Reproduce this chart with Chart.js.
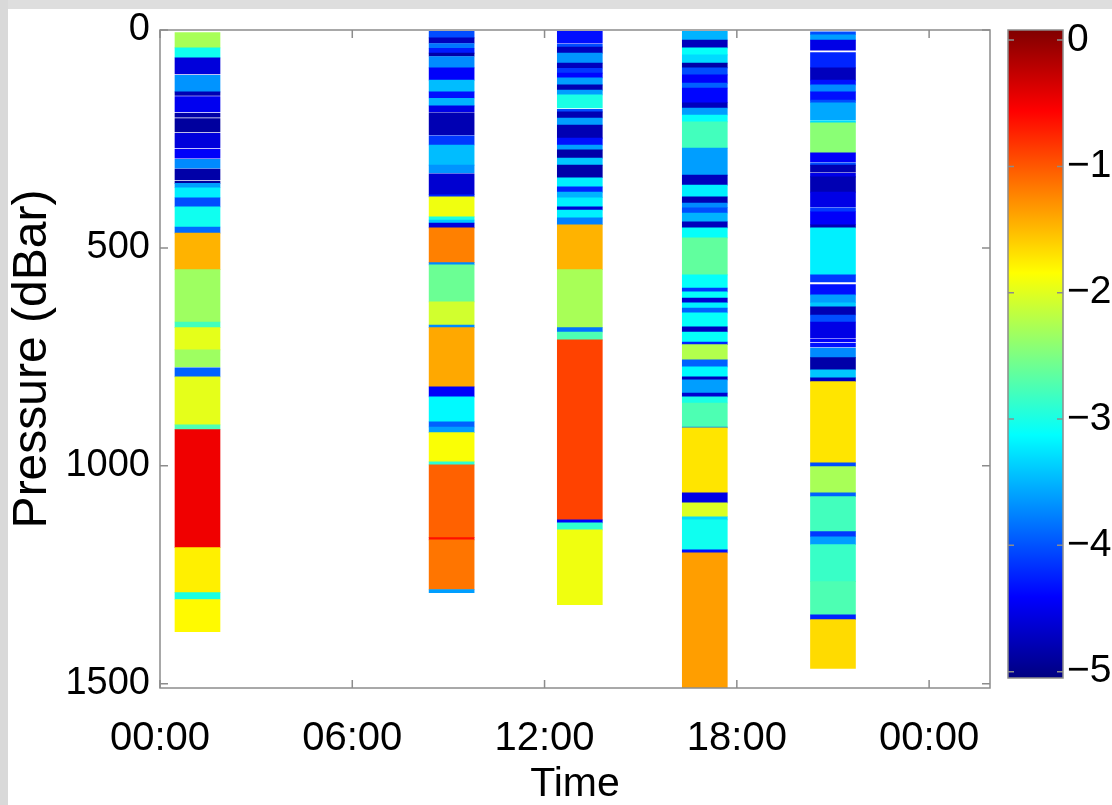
<!DOCTYPE html>
<html>
<head>
<meta charset="utf-8">
<title>Pressure profiles</title>
<script src="https://cdn.jsdelivr.net/npm/chart.js@4.4.0/dist/chart.umd.min.js"></script>
<style>
  html, body { margin: 0; padding: 0; }
  body {
    width: 1112px; height: 805px; overflow: hidden;
    position: relative; background: #fff;
  }
  .edge-top { position: absolute; left: 0; top: 0; width: 1112px; height: 9px; background: #dedede; }
  .edge-left { position: absolute; left: 0; top: 0; width: 8px; height: 805px; background: #d9d9d9; }
  canvas { position: absolute; top: 0; }
  #profiles { left: 0; }
  #colorbar { left: 1000px; }
</style>
</head>
<body>
<div class="edge-top"></div>
<div class="edge-left"></div>
<canvas id="profiles" width="1000" height="805"></canvas>
<canvas id="colorbar" width="112" height="805"></canvas>
<script>
// cast times in hours from midnight
const profileTimes = [1.17, 9.1, 13.1, 17.0, 21.0];

// each cast: [top dBar, bottom dBar, value]
const profile1 = [
  [6, 41, -2.3], [41, 64, -3.05], [64, 101, -4.55], [104, 142, -3.65], [142, 150, -4.75],
  [153, 188, -4.45], [191, 200, -4.8], [203, 234, -4.85], [237, 270, -4.55], [273, 294, -4.4],
  [297, 317, -3.7], [319, 344, -4.8], [347, 352, -4.85], [352, 362, -3.6], [362, 385, -3.2],
  [385, 406, -4.0], [406, 452, -3.05], [452, 466, -3.85], [466, 550, -1.5], [550, 670, -2.35],
  [670, 683, -2.8], [683, 734, -2.0], [734, 773, -2.35], [775, 796, -3.9], [796, 906, -2.0],
  [906, 917, -2.75], [917, 1188, -0.55], [1188, 1291, -1.8], [1291, 1307, -3.0], [1307, 1381, -1.85]
];
const profile2 = [
  [3, 18, -4.0], [18, 30, -4.7], [31, 41, -3.8], [42, 53, -4.25], [53, 60, -4.8],
  [61, 87, -3.7], [87, 115, -4.4], [115, 142, -3.45], [142, 156, -4.3], [157, 174, -3.5],
  [174, 188, -4.5], [190, 241, -4.75], [243, 264, -4.1], [264, 310, -3.45], [310, 328, -3.65],
  [330, 378, -4.6], [378, 383, -4.2], [383, 429, -1.95], [429, 436, -3.0], [436, 443, -3.4],
  [443, 454, -4.55], [454, 534, -1.25], [534, 539, -3.7], [539, 624, -2.6], [624, 677, -2.1],
  [677, 683, -3.7], [683, 819, -1.45], [819, 842, -4.4], [842, 899, -3.15], [899, 911, -3.9],
  [911, 924, -3.6], [924, 991, -1.9], [991, 998, -2.9], [998, 1165, -1.1], [1165, 1170, -0.7],
  [1170, 1284, -1.2], [1284, 1291, -3.6]
];
const profile3 = [
  [3, 30, -4.3], [33, 39, -4.0], [39, 53, -4.7], [53, 76, -3.65], [76, 87, -4.7],
  [88, 99, -4.1], [99, 110, -4.35], [110, 126, -3.6], [126, 138, -4.75], [138, 149, -3.6],
  [149, 179, -3.0], [182, 188, -4.0], [188, 202, -4.75], [202, 218, -3.6], [218, 248, -4.75],
  [248, 264, -4.3], [264, 275, -3.6], [275, 294, -4.8], [294, 310, -3.4], [310, 339, -4.8],
  [339, 360, -3.2], [360, 372, -4.2], [372, 385, -3.5], [385, 406, -3.2], [406, 413, -4.6],
  [413, 431, -3.2], [431, 447, -3.75], [447, 550, -1.5], [550, 683, -2.3], [683, 693, -3.8],
  [693, 711, -2.75], [711, 1124, -0.95], [1124, 1131, -4.4], [1131, 1147, -2.9], [1147, 1319, -1.95]
];
const profile4 = [
  [3, 23, -3.5], [23, 41, -4.7], [41, 57, -3.1], [57, 76, -3.3], [76, 87, -4.8],
  [87, 103, -4.0], [103, 122, -4.4], [122, 133, -3.9], [133, 167, -4.35], [167, 179, -4.7],
  [179, 195, -3.6], [195, 211, -3.1], [211, 271, -2.8], [271, 333, -3.6], [333, 356, -4.7],
  [356, 383, -3.2], [383, 397, -4.75], [397, 408, -3.7], [408, 420, -4.0], [420, 440, -3.5],
  [440, 454, -4.7], [454, 477, -3.1], [477, 562, -2.65], [562, 592, -3.1], [592, 601, -4.1],
  [601, 615, -3.1], [615, 626, -4.6], [626, 638, -3.2], [638, 649, -3.9], [649, 681, -3.1],
  [681, 693, -4.7], [693, 716, -3.1], [716, 722, -4.2], [722, 757, -2.25], [757, 773, -3.9],
  [773, 796, -3.15], [796, 803, -4.7], [803, 833, -3.6], [833, 842, -4.6], [842, 856, -3.0],
  [856, 911, -2.75], [911, 913, -3.8], [913, 1062, -1.75], [1062, 1085, -4.5], [1085, 1117, -2.05],
  [1117, 1124, -3.3], [1124, 1193, -3.05], [1193, 1200, -4.3], [1200, 1509, -1.4]
];
const profile5 = [
  [4, 11, -4.0], [11, 23, -3.6], [23, 46, -4.5], [52, 87, -4.2], [87, 115, -4.7],
  [115, 126, -4.3], [126, 142, -3.7], [142, 161, -4.3], [161, 167, -4.0], [167, 206, -3.55],
  [208, 213, -3.3], [213, 282, -2.45], [282, 303, -4.4], [305, 310, -4.0], [310, 326, -4.75],
  [329, 337, -4.5], [337, 372, -4.75], [372, 406, -4.5], [408, 417, -4.1], [417, 447, -4.4],
  [447, 454, -4.75], [454, 562, -3.2], [562, 578, -4.1], [584, 608, -4.3], [608, 626, -3.6],
  [626, 635, -3.4], [635, 654, -4.75], [654, 670, -4.0], [670, 706, -4.5], [709, 716, -4.4],
  [719, 727, -4.3], [730, 752, -3.7], [752, 780, -4.8], [780, 798, -3.4], [798, 807, -4.7],
  [807, 993, -1.75], [993, 1002, -4.0], [1002, 1062, -2.3], [1062, 1071, -3.9], [1071, 1151, -2.8],
  [1151, 1163, -4.1], [1163, 1181, -3.6], [1181, 1266, -2.85], [1266, 1342, -2.75], [1342, 1353, -4.2],
  [1353, 1465, -1.7]
];
const profiles = [profile1, profile2, profile3, profile4, profile5];

const pressureTicks = [0, 500, 1000, 1500];
const timeTicks = [0, 6, 12, 18, 24];
const timeTickLabels = ['00:00', '06:00', '12:00', '18:00', '00:00'];
const colorTicks = [0, -1, -2, -3, -4, -5];
const valueMin = -5;
const valueMax = 0;
// colour bar axis runs a little past the tick range at both ends
const barMin = -5.05;
const barMax = 0.08;

const FONT = '"Liberation Sans", Arial, Helvetica, sans-serif';

// MATLAB-style jet colormap, t in [0, 1]
function jetRGB(t) {
  const c = x => Math.round(255 * Math.max(0, Math.min(1, x)));
  return [c(1.5 - Math.abs(4 * t - 3)), c(1.5 - Math.abs(4 * t - 2)), c(1.5 - Math.abs(4 * t - 1))];
}
function jet(v) {
  const t = (v - valueMin) / (valueMax - valueMin);
  const [r, g, b] = jetRGB(t);
  return `rgb(${r},${g},${b})`;
}

// box with inward ticks on every side
const boxTicks = {
  id: 'boxTicks',
  afterDraw(chart, args, opts) {
    const { ctx, chartArea: a, scales } = chart;
    const len = opts.length || 8;
    ctx.save();
    ctx.strokeStyle = '#8c8c8c';
    ctx.lineWidth = 1.5;
    ctx.strokeRect(a.left, a.top, a.right - a.left, a.bottom - a.top);
    ctx.beginPath();
    if (scales.x && scales.x.options.display !== false) {
      scales.x.ticks.forEach(t => {
        const px = scales.x.getPixelForValue(t.value);
        ctx.moveTo(px, a.bottom); ctx.lineTo(px, a.bottom - len);
        ctx.moveTo(px, a.top); ctx.lineTo(px, a.top + len);
      });
    }
    scales.y.ticks.forEach(t => {
      const py = scales.y.getPixelForValue(t.value);
      ctx.moveTo(a.left, py); ctx.lineTo(a.left + len, py);
      ctx.moveTo(a.right, py); ctx.lineTo(a.right - len, py);
    });
    ctx.stroke();
    ctx.restore();
  }
};

new Chart(document.getElementById('profiles'), {
  type: 'bar',
  data: {
    datasets: profiles.map((prof, i) => ({
      data: prof.map(s => ({ x: profileTimes[i], y: [s[0], s[1]] })),
      backgroundColor: prof.map(s => jet(s[2])),
      borderWidth: 0,
      barThickness: 45,
      grouped: false
    }))
  },
  options: {
    responsive: false,
    animation: false,
    layout: { padding: { top: 30, right: 10, left: 0, bottom: 0 } },
    plugins: {
      legend: { display: false },
      tooltip: { enabled: false },
      boxTicks: { length: 8 }
    },
    scales: {
      x: {
        type: 'linear',
        min: 0,
        max: 25.9,
        offset: false,
        afterBuildTicks: s => { s.ticks = timeTicks.map(v => ({ value: v })); },
        afterFit: s => { s.height = 805 - 688; },
        ticks: {
          autoSkip: false,
          maxRotation: 0,
          padding: 19,
          color: '#000',
          font: { family: FONT, size: 40 },
          callback: v => timeTickLabels[timeTicks.indexOf(v)]
        },
        grid: { display: false },
        border: { display: false },
        title: {
          display: true,
          text: 'Time',
          color: '#000',
          font: { family: FONT, size: 41, lineHeight: 1 },
          padding: { top: 0, bottom: 0 }
        }
      },
      y: {
        type: 'linear',
        reverse: true,
        min: 0,
        max: 1510,
        afterBuildTicks: s => { s.ticks = pressureTicks.map(v => ({ value: v })); },
        afterFit: s => { s.width = 160; },
        ticks: {
          padding: 2,
          color: '#000',
          font: { family: FONT, size: 38 },
          callback: v => String(v)
        },
        grid: { display: false },
        border: { display: false },
        title: {
          display: true,
          text: 'Pressure (dBar)',
          color: '#000',
          font: { family: FONT, size: 48, lineHeight: 1 },
          padding: { top: 9, bottom: 0 }
        }
      }
    }
  },
  plugins: [boxTicks]
});

// colour scale bar, filled with the jet ramp
function jetGradient(chart) {
  const a = chart.chartArea;
  if (!a) return null;
  const g = chart.ctx.createLinearGradient(0, a.bottom, 0, a.top);
  for (let i = 0; i <= 16; i++) {
    const t = i / 16;
    const [r, gg, b] = jetRGB(t);
    g.addColorStop(t, `rgb(${r},${gg},${b})`);
  }
  return g;
}

new Chart(document.getElementById('colorbar'), {
  type: 'bar',
  data: {
    labels: [''],
    datasets: [{
      data: [[barMin, barMax]],
      backgroundColor: ctx => jetGradient(ctx.chart),
      borderWidth: 0,
      barPercentage: 1,
      categoryPercentage: 1
    }]
  },
  options: {
    responsive: false,
    animation: false,
    layout: { padding: { top: 30, left: 8, right: 0, bottom: 805 - 678 } },
    plugins: {
      legend: { display: false },
      tooltip: { enabled: false },
      boxTicks: { length: 6 }
    },
    scales: {
      x: { display: false },
      y: {
        position: 'right',
        min: barMin,
        max: barMax,
        afterBuildTicks: s => { s.ticks = colorTicks.map(v => ({ value: v })); },
        afterFit: s => { s.width = 112 - 63; },
        ticks: {
          padding: 4,
          color: '#000',
          font: { family: FONT, size: 39 },
          callback: v => (v === 0 ? '0' : '\u2212' + Math.abs(v))
        },
        grid: { display: false, drawTicks: false },
        border: { display: false }
      }
    }
  },
  plugins: [boxTicks]
});
</script>
</body>
</html>
